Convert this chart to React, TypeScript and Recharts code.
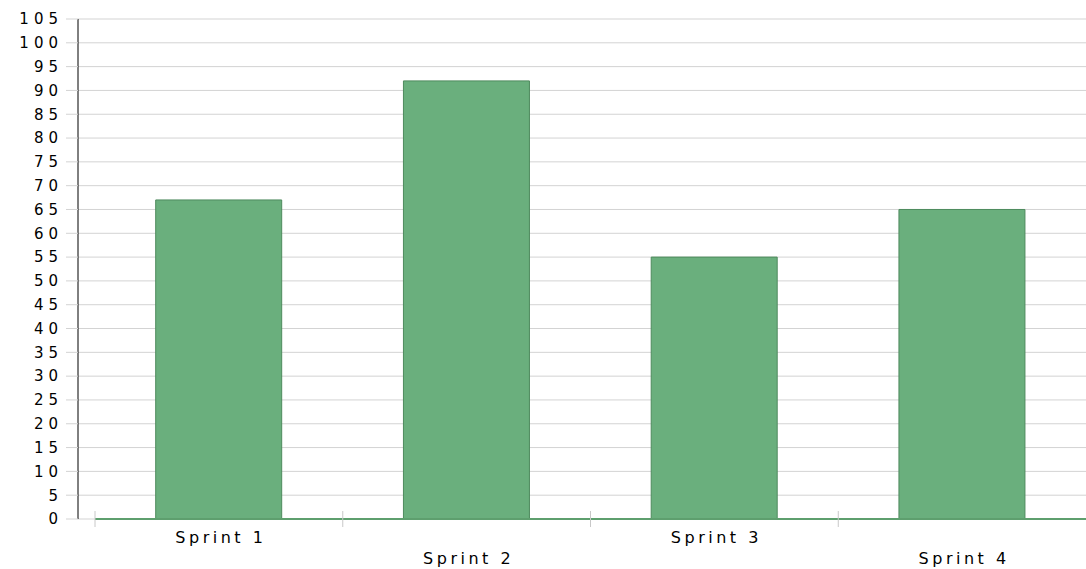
import { ComposedChart, Bar, Line, XAxis, YAxis, CartesianGrid } from 'recharts';

const sprints = ['Sprint 1', 'Sprint 2', 'Sprint 3', 'Sprint 4'];
const points = [67, 92, 55, 65];
const yTicks = [0, 5, 10, 15, 20, 25, 30, 35, 40, 45, 50, 55, 60, 65, 70, 75, 80, 85, 90, 95, 100, 105];

const data = sprints.map((name, i) => ({ name, points: points[i] }));

const xFont = { fontFamily: 'DejaVu Sans', fontSize: 16, letterSpacing: 3.5, fill: '#000' };
const yFont = { fontFamily: 'DejaVu Sans', fontSize: 15, letterSpacing: 5, fill: '#000' };

// staggered category labels, tick mark sits on the band edge
function SprintTick(props: any) {
  const { x, y, payload, index } = props;
  const edge = x - (payload.offset ?? 0);
  const low = index % 2 === 1;
  return (
    <g>
      <line x1={edge} x2={edge} y1={y - 8} y2={y + 8} stroke="#c8c8c8" />
      <text x={x + 2} y={y + (low ? 45 : 24)} textAnchor="middle" style={xFont}>
        {payload.value}
      </text>
    </g>
  );
}

const NoLabel = () => <g />;

export default function App() {
  return (
    <div>
      <style>{`body{margin:0}`}</style>
      <ComposedChart
        width={1086}
        height={569}
        data={data}
        margin={{ top: 19, right: 0, left: 0, bottom: 0 }}
        barCategoryGap="24.5%"
      >
        <CartesianGrid vertical={false} stroke="#d3d3d3" />
        {/* inner axis: only the grey stubs between the black line and the plot */}
        <YAxis
          width={17}
          domain={[0, 105]}
          ticks={yTicks}
          interval={0}
          tick={<NoLabel />}
          tickSize={17}
          tickLine={{ stroke: '#d3d3d3' }}
          axisLine={false}
        />
        <YAxis
          yAxisId="outer"
          width={78}
          domain={[0, 105]}
          ticks={yTicks}
          interval={0}
          tickSize={12}
          tickMargin={3}
          tickLine={{ stroke: '#d3d3d3' }}
          axisLine={{ stroke: '#000' }}
          tick={yFont}
        />
        <XAxis
          dataKey="name"
          height={50}
          tickSize={0}
          tickMargin={0}
          interval={0}
          axisLine={{ stroke: '#5e9f6e', strokeWidth: 2 }}
          tick={<SprintTick />}
        />
        <Bar dataKey="points" fill="#6aaf7d" stroke="#4e8a5d" isAnimationActive={false} />
        <Line
          yAxisId="outer"
          dataKey="points"
          stroke="none"
          dot={false}
          activeDot={false}
          isAnimationActive={false}
        />
      </ComposedChart>
    </div>
  );
}
